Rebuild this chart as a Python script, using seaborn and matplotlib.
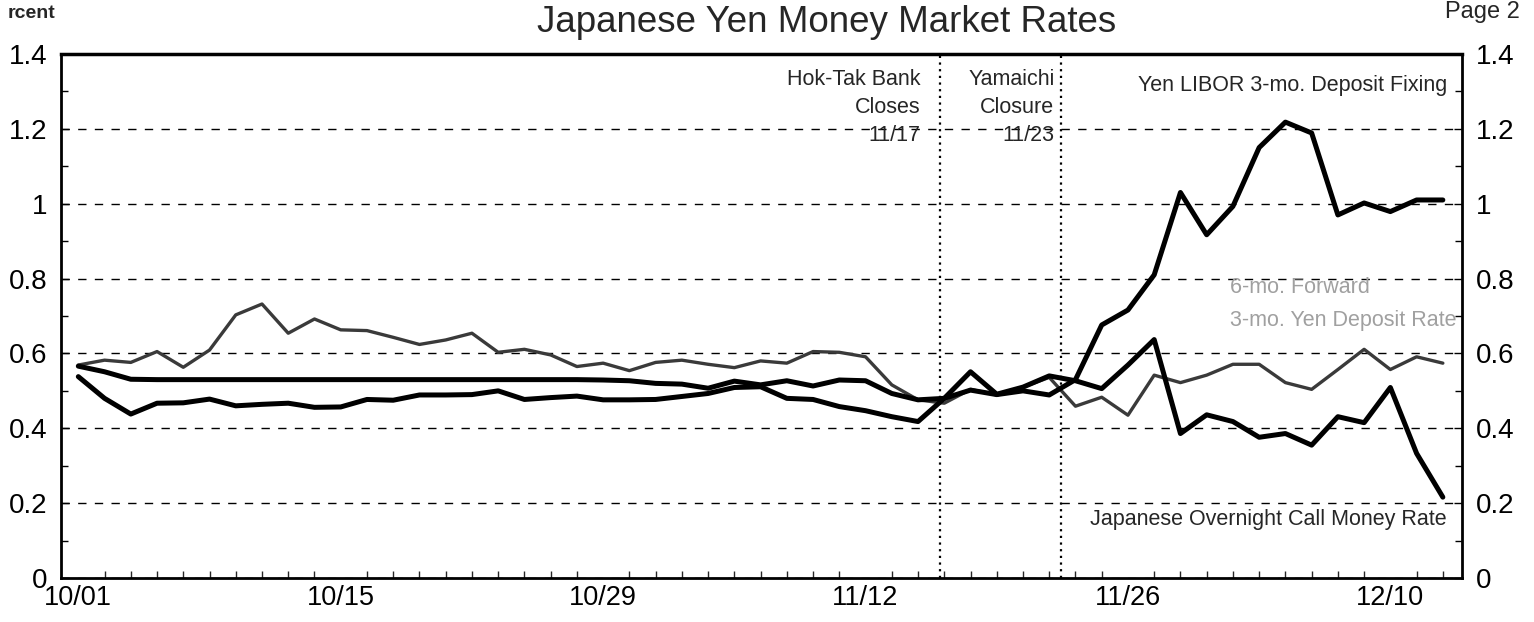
import numpy as np
import pandas as pd
import matplotlib
matplotlib.use("Agg")
import matplotlib.pyplot as plt
import seaborn as sns
from matplotlib.ticker import MultipleLocator, FuncFormatter

# business-day series, 10/01 .. 12/12
tick_index = [0, 10, 20, 30, 40, 50]
tick_labels = ["10/01", "10/15", "10/29", "11/12", "11/26", "12/10"]

libor_3mo = [0.566, 0.551, 0.531, 0.53, 0.53, 0.53, 0.53, 0.53, 0.53, 0.53,
             0.53, 0.53, 0.53, 0.53, 0.53, 0.53, 0.53, 0.53, 0.53, 0.53,
             0.529, 0.527, 0.520, 0.518, 0.507, 0.526, 0.516, 0.527, 0.513, 0.529,
             0.527, 0.493, 0.476, 0.48, 0.502, 0.49, 0.50, 0.489, 0.53, 0.676,
             0.716, 0.81, 1.03, 0.917, 0.993, 1.15, 1.218, 1.189, 0.97, 1.002,
             0.979, 1.01, 1.01]
overnight_call = [0.538, 0.480, 0.438, 0.467, 0.468, 0.478, 0.460, 0.464, 0.467, 0.456,
                  0.457, 0.477, 0.475, 0.489, 0.489, 0.490, 0.500, 0.477, 0.482, 0.486,
                  0.476, 0.476, 0.477, 0.485, 0.493, 0.509, 0.511, 0.480, 0.477, 0.458,
                  0.447, 0.431, 0.418, 0.48, 0.551, 0.491, 0.51, 0.54, 0.527, 0.506,
                  0.569, 0.637, 0.386, 0.436, 0.418, 0.376, 0.386, 0.355, 0.431, 0.415,
                  0.509, 0.333, 0.216]
forward_6x9 = [0.569, 0.582, 0.576, 0.605, 0.563, 0.609, 0.703, 0.732, 0.654, 0.692,
               0.663, 0.661, 0.643, 0.624, 0.636, 0.654, 0.603, 0.611, 0.596, 0.565,
               0.574, 0.554, 0.576, 0.582, 0.571, 0.562, 0.580, 0.574, 0.605, 0.603,
               0.591, 0.516, 0.476, 0.467, 0.504, 0.489, 0.510, 0.536, 0.459, 0.483,
               0.435, 0.542, 0.522, 0.542, 0.571, 0.571, 0.522, 0.504, 0.557, 0.611,
               0.557, 0.591, 0.574]

event_index = [32.85, 37.45]
event_text = ["Hok-Tak Bank\nCloses\n11/17", "Yamaichi\nClosure\n11/23"]

df = pd.DataFrame({"day": np.arange(len(libor_3mo)), "libor": libor_3mo,
                   "overnight": overnight_call, "forward": forward_6x9})

sns.set_theme(style="white")
plt.rcParams['font.family'] = ['Liberation Sans', 'DejaVu Sans']

fig, ax = plt.subplots(figsize=(15.34, 6.22), dpi=100)
fig.subplots_adjust(left=61/1534, right=1462/1534, bottom=1-578/622, top=1-54/622)

ax.set_xlim(-0.66, 52.73)
ax.set_ylim(0, 1.4)
ax.yaxis.set_major_locator(MultipleLocator(0.2))
ax.yaxis.set_minor_locator(MultipleLocator(0.1))
ax.yaxis.set_major_formatter(FuncFormatter(lambda v, p: f"{round(v, 1):g}"))
ax.yaxis.grid(True, color="black", lw=1, ls=(0, (6, 6)))

for xe in event_index:
    ax.axvline(xe, color="black", lw=1.6, ls=(0, (1, 2)))

sns.lineplot(data=df, x="day", y="forward", color="#3a3a3a", lw=2.4, ax=ax)
sns.lineplot(data=df, x="day", y="overnight", color="black", lw=3.6, ax=ax)
sns.lineplot(data=df, x="day", y="libor", color="black", lw=3.6, ax=ax)

ax.set_xticks(tick_index, tick_labels)
ax.xaxis.set_minor_locator(MultipleLocator(1))
ax.tick_params(axis="x", which="major", direction="in", length=9, width=1, pad=5, labelsize=19.5, colors="black")
ax.tick_params(axis="x", which="minor", direction="in", length=5, width=1, bottom=True)
ax.tick_params(axis="y", which="both", direction="in", left=True, right=True,
               labelleft=True, labelright=True, width=1, labelsize=20, pad=10, colors="black")
ax.tick_params(axis="y", which="major", length=6)
ax.tick_params(axis="y", which="minor", length=5)
ax.set_xlabel("")
ax.set_ylabel("")
for s in ax.spines.values():
    s.set_color("black")
    s.set_linewidth(2)
ax.spines["top"].set_linewidth(2.5)

# annotations
ax.text(event_index[0] - 0.75, 1.36, event_text[0], ha="right", va="top", fontsize=15.5, linespacing=1.45)
ax.text(event_index[1] - 0.25, 1.36, event_text[1], ha="right", va="top", fontsize=15.5, linespacing=1.45)
ax.text(52.15, 1.317, "Yen LIBOR 3-mo. Deposit Fixing", ha="right", va="center", fontsize=15.5)
ax.text(52.15, 0.155, "Japanese Overnight Call Money Rate", ha="right", va="center", fontsize=15.5)
ax.text(43.9, 0.775, "6-mo. Forward", ha="left", va="center", fontsize=15.5, color="#a0a0a0")
ax.text(43.9, 0.689, "3-mo. Yen Deposit Rate", ha="left", va="center", fontsize=15.5, color="#a0a0a0")

fig.text(827/1534, 1-22/622, "Japanese Yen Money Market Rates", ha="center", va="center", fontsize=26.5)
fig.text(1482/1534, 1-12/622, "Page 2", ha="center", va="center", fontsize=17)
fig.text(8/1534, 1-14/622, "rcent", ha="left", va="center", fontsize=14, fontweight="bold")

fig.savefig("out.png", dpi=100)
